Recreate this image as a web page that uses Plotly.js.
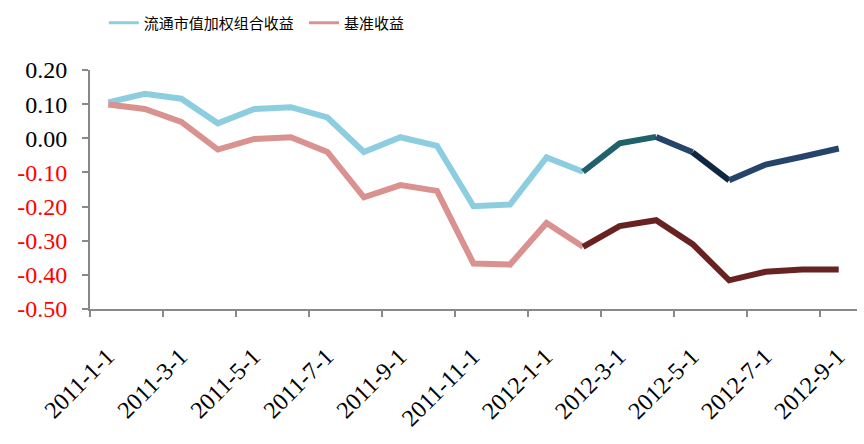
<!DOCTYPE html>
<html>
<head>
<meta charset="utf-8">
<script src="https://cdn.plot.ly/plotly-3.0.1.min.js"></script>
<style>html,body{margin:0;padding:0;background:#fff;}#chart{width:864px;height:444px;}</style>
</head>
<body>
<div id="chart"></div>
<script>
// Month categories (one point per month)
const months = ["2011-1-1","2011-2-1","2011-3-1","2011-4-1","2011-5-1","2011-6-1","2011-7-1",
  "2011-8-1","2011-9-1","2011-10-1","2011-11-1","2011-12-1","2012-1-1","2012-2-1",
  "2012-3-1","2012-4-1","2012-5-1","2012-6-1","2012-7-1","2012-8-1","2012-9-1"];

// 流通市值加权组合收益
const portfolio = [0.105,0.130,0.116,0.044,0.086,0.091,0.061,
  -0.040,0.003,-0.022,-0.199,-0.194,-0.056,-0.098,
  -0.015,0.004,-0.041,-0.123,-0.077,-0.054,-0.030];

// 基准收益
const benchmark = [0.099,0.086,0.048,-0.033,-0.002,0.003,-0.040,
  -0.173,-0.137,-0.154,-0.367,-0.370,-0.248,-0.318,
  -0.257,-0.240,-0.310,-0.416,-0.391,-0.384,-0.384];

const seriesNames = ["流通市值加权组合收益","基准收益"];

// y tick labels
const yTickVals = [0.2,0.1,0.0,-0.1,-0.2,-0.3,-0.4,-0.5];
const yTickText = ["0.20","0.10","0.00","-0.10","-0.20","-0.30","-0.40","-0.50"];

// colour segments: [startIndex, endIndex, colour]
const portfolioSegments = [[0,13,"#8dcde0"],[13,15,"#1f616d"],[15,16,"#25446a"],[16,17,"#0f2742"],[17,20,"#25446a"]];
const benchmarkSegments = [[0,13,"#d9928f"],[13,20,"#692222"]];

const traces = [];
function addSegments(vals, segs){
  segs.forEach(s=>{
    traces.push({
      x: months.slice(s[0], s[1]+1),
      y: vals.slice(s[0], s[1]+1),
      type:"scatter", mode:"lines", showlegend:false, hoverinfo:"skip",
      line:{color:s[2], width:6, shape:"linear"}
    });
  });
}
addSegments(portfolio, portfolioSegments);
addSegments(benchmark, benchmarkSegments);
// legend entries
traces.push({x:[null],y:[null],type:"scatter",mode:"lines",name:seriesNames[0],legend:"legend",line:{color:"#8dcde0",width:3}});
traces.push({x:[null],y:[null],type:"scatter",mode:"lines",name:seriesNames[1],legend:"legend2",line:{color:"#d9928f",width:3}});

const yText = yTickText.map((t,i)=> yTickVals[i] < 0 ? '<span style="color:#ff0000">'+t+'</span>' : t);

const legendFont = {family:"Noto Sans CJK SC", size:15, color:"#000"};

const layout = {
  width:864, height:444,
  margin:{l:90, r:7, t:70, b:135},
  paper_bgcolor:"#ffffff", plot_bgcolor:"#ffffff",
  font:{family:"Liberation Serif, Times New Roman, serif", color:"#000"},
  showlegend:true,
  legend:{orientation:"h", x:0.018, xanchor:"left", y:1.197, yanchor:"middle",
    font:legendFont, bgcolor:"rgba(0,0,0,0)"},
  legend2:{orientation:"h", x:0.279, xanchor:"left", y:1.197, yanchor:"middle",
    font:legendFont, bgcolor:"rgba(0,0,0,0)"},
  xaxis:{type:"category", categoryarray:months, range:[-0.5,20.5],
    tickmode:"linear", tick0:0, dtick:2, tickson:"boundaries",
    ticks:"outside", ticklen:6, tickwidth:2, tickcolor:"#898989",
    showline:true, linecolor:"#898989", linewidth:2, showgrid:false, zeroline:false,
    tickangle:-45, ticklabelstandoff:22, ticklabelshift:-1,
    tickfont:{size:24, family:"Liberation Serif", color:"#000"}},
  yaxis:{range:[-0.5,0.2], tickmode:"array", tickvals:yTickVals, ticktext:yText,
    ticks:"outside", ticklen:6, tickwidth:2, tickcolor:"#898989",
    showline:true, linecolor:"#898989", linewidth:2, showgrid:false, zeroline:false,
    ticklabelstandoff:10,
    tickfont:{size:24, family:"Liberation Serif", color:"#000"}}
};

Plotly.newPlot("chart", traces, layout, {displayModeBar:false, staticPlot:true});
</script>
</body>
</html>
